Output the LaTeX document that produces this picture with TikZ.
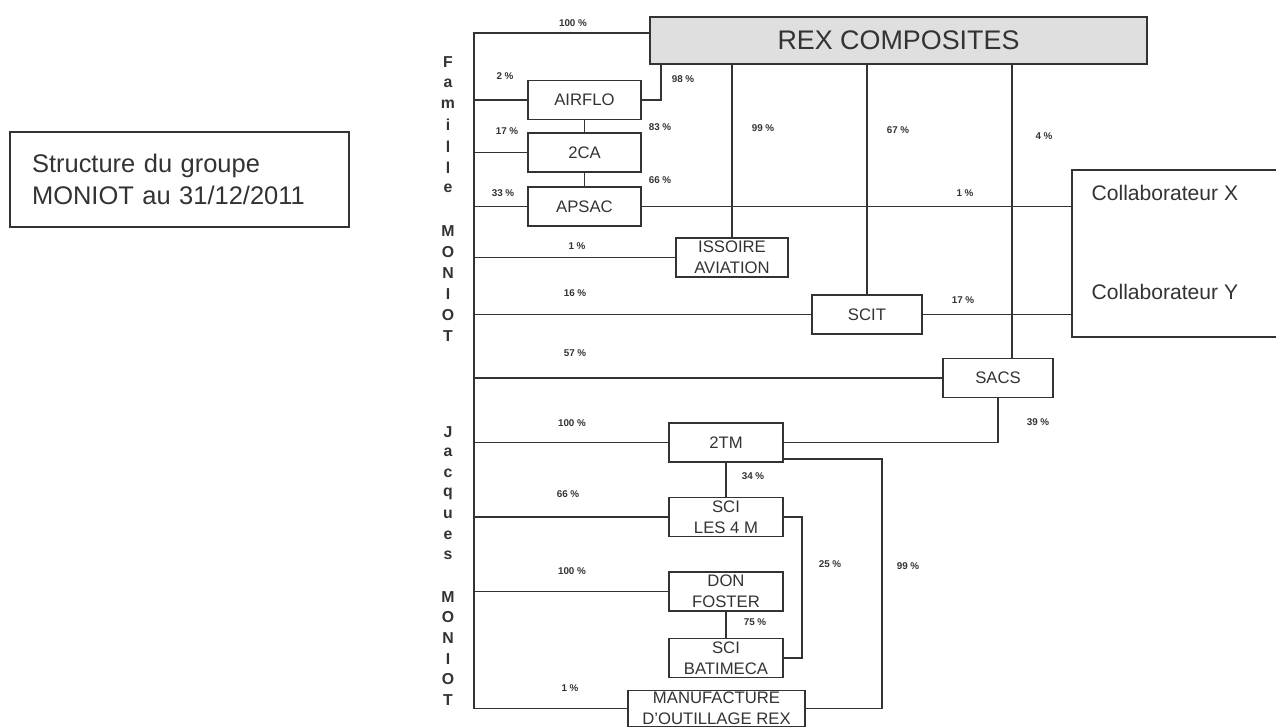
\documentclass[tikz,border=0pt]{standalone}
\usepackage{fontspec}
\setmainfont{Liberation Sans}
\usetikzlibrary{calc}

\begin{document}
\begin{tikzpicture}[x=0.02cm,y=-0.02cm,line width=0.9pt,color=black!80,
  ent/.style={draw,align=center,inner sep=1pt,minimum height=0.78cm,font=\fontsize{9.5}{11.8}\selectfont},
  pct/.style={font=\fontsize{5.6}{6}\selectfont\bfseries},
  vlet/.style={font=\fontsize{9}{10}\selectfont\bfseries}]
\useasboundingbox (0,0) rectangle (1276,727);

% title
\node[draw,align=left,text width=5.9cm,inner xsep=0.44cm,minimum height=1.9cm,
  font=\fontsize{14.5}{18}\selectfont] (titre) at (179.5,179.5) {Structure du groupe\\MONIOT au 31/12/2011};

% companies
\node[draw,fill=gray!25,minimum width=9.94cm,minimum height=0.94cm,
  font=\fontsize{15.3}{18}\selectfont] (rex) at (898.5,40.5) {REX COMPOSITES};
\node[ent,minimum width=2.26cm] (airflo) at (584.5,100) {AIRFLO};
\node[ent,minimum width=2.26cm] (tca) at (584.5,152.5) {2CA};
\node[ent,minimum width=2.26cm] (apsac) at (584.5,206.5) {APSAC};
\node[ent,minimum width=2.24cm] (issoire) at (732,257.5) {ISSOIRE\\AVIATION};
\node[ent,minimum width=2.2cm] (scit) at (867,314.5) {SCIT};
\node[ent,minimum width=2.2cm] (sacs) at (998,378) {SACS};
\node[ent,minimum width=2.28cm] (ttm) at (726,442.5) {2TM};
\node[ent,minimum width=2.28cm] (lesm) at (726,517) {SCI\\LES 4 M};
\node[ent,minimum width=2.28cm] (foster) at (726,591.5) {DON\\FOSTER};
\node[ent,minimum width=2.28cm] (batimeca) at (726,658) {SCI\\BATIMECA};
\node[ent,minimum width=3.54cm,minimum height=0.7cm] (manuf) at (716.5,708.5) {MANUFACTURE\\D'OUTILLAGE REX};

% collaborateurs
\node[draw,minimum width=4.4cm,minimum height=3.34cm] (collab) at (1182,253.5) {};
\node[anchor=west,font=\fontsize{12}{14}\selectfont] (colx) at (1085,193) {Collaborateur X};
\node[anchor=west,font=\fontsize{12}{14}\selectfont] (coly) at (1085,292) {Collaborateur Y};

% family spine
\coordinate (spine) at (474,33);
\draw (rex.west |- spine) -- (spine) |- (manuf.west);
\foreach \n in {airflo,tca,apsac,issoire,scit,sacs,ttm,lesm,foster}
  \draw (spine |- \n.west) -- (\n.west);

\foreach \c/\k in {F/0,a/1,m/2,i/3,l/4,l/5,e/6,M/8,O/9,N/10,I/11,O/12,T/13}
  \node[vlet] (fam\k) at (448,{62+21.08*\k}) {\c};
\foreach \c/\k in {J/0,a/1,c/2,q/3,u/4,e/5,s/6,M/8,O/9,N/10,I/11,O/12,T/13}
  \node[vlet] (jac\k) at (448,{432+20.6*\k}) {\c};

% holdings
\coordinate (k98) at (661,0);
\coordinate (k4) at (1012,0);
\coordinate (k25) at (802,0);
\coordinate (k99) at (882,0);
\draw (airflo.east) -| (rex.south -| k98);
\draw (rex.south -| issoire.north) -- (issoire.north);
\draw (rex.south -| scit.north) -- (scit.north);
\draw (rex.south -| k4) -- (sacs.north -| k4);
\draw (airflo) -- (tca);
\draw (tca) -- (apsac);
\draw (apsac.east) -- (collab.west |- apsac.east);
\draw (scit.east) -- (collab.west |- scit.east);
\draw (sacs.south) |- (ttm.east);
\draw (ttm) -- (lesm);
\draw (foster) -- (batimeca);
\draw (lesm.east) -| (k25 |- batimeca.east) -- (batimeca.east);
\draw ($(ttm.south east)+(0,-4)$) -| (k99 |- manuf.east) -- (manuf.east);

% percentages
\foreach \px/\py/\v [count=\i] in {573/23/100,505/76/2,683/79/98,507/131/17,660/127/83,
    763/128/99,898/130/67,1044/136/4,503/193/33,660/180/66,965/193/1,577/246/1,
    575/293/16,963/300/17,575/353/57,1038/422/39,572/423/100,753/476/34,568/494/66,
    830/564/25,908/566/99,572/571/100,755/622/75,570/688/1}
  \node[pct] (pct\i) at (\px,\py) {\v\ \%};
\end{tikzpicture}
\end{document}
